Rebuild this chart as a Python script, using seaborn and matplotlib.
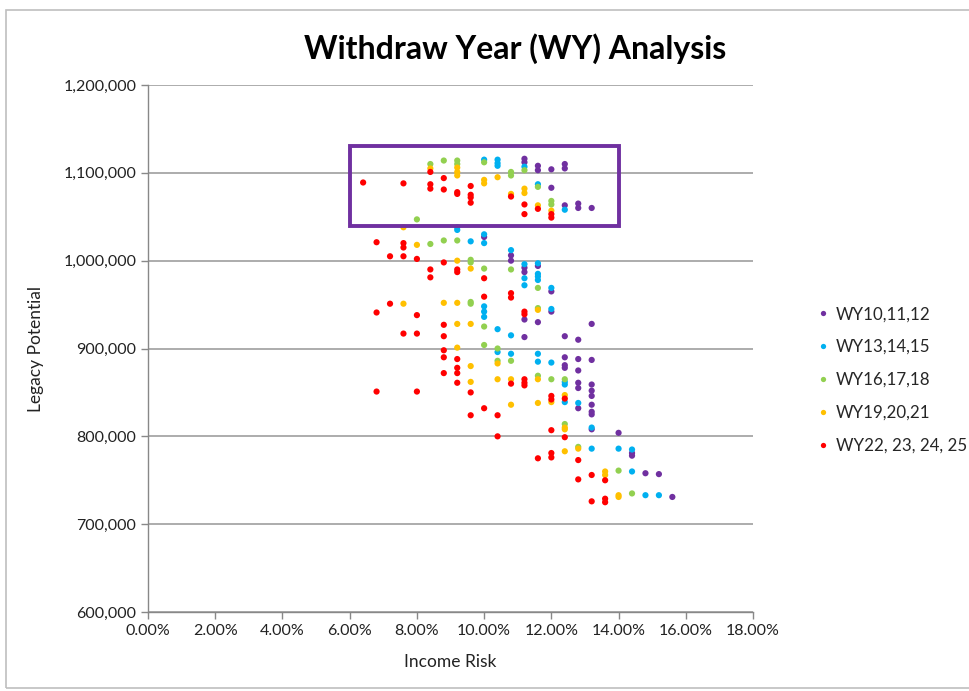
import matplotlib
matplotlib.use("Agg")
import matplotlib.pyplot as plt
from matplotlib.patches import Rectangle
from matplotlib.ticker import FuncFormatter
import pandas as pd
import seaborn as sns

# Income risk (%) / legacy potential ($) per withdraw-year group
wy10_x = [10.0, 10.8, 10.8, 11.2, 11.2, 11.2, 11.2, 11.2, 11.2, 11.6, 11.6, 11.6, 11.6,
          12.0, 12.0, 12.0, 12.0, 12.4, 12.4, 12.4, 12.4, 12.4, 12.4, 12.4,
          12.8, 12.8, 12.8, 12.8, 12.8, 12.8, 12.8, 12.8,
          13.2, 13.2, 13.2, 13.2, 13.2, 13.2, 13.2, 13.2, 13.2, 13.2,
          14.0, 14.4, 14.4, 14.8, 15.2, 15.6]
wy10_y = [1027, 1006, 1000, 1116, 1112, 992, 987, 933, 913, 1108, 1103, 994, 930,
          1104, 1083, 965, 942, 1110, 1105, 1063, 914, 890, 881, 878,
          1065, 1060, 910, 888, 875, 861, 855, 832,
          1060, 928, 887, 859, 852, 846, 836, 828, 825, 808,
          804, 781, 778, 758, 757, 731]

wy13_x = [9.2, 9.2, 9.6, 10.0, 10.0, 10.0, 10.0, 10.0, 10.0, 10.4, 10.4, 10.4, 10.4, 10.4,
          10.8, 10.8, 10.8, 11.2, 11.2, 11.2, 11.2,
          11.6, 11.6, 11.6, 11.6, 11.6, 11.6, 11.6, 12.0, 12.0, 12.0,
          12.4, 12.4, 12.4, 12.4, 12.8, 13.2, 13.2, 14.0, 14.4, 14.4, 14.8, 15.2]
wy13_y = [1038, 1035, 1022, 1115, 1030, 1020, 948, 942, 936, 1115, 1111, 1108, 922, 896,
          1012, 915, 894, 1107, 996, 980, 972,
          1087, 997, 985, 982, 978, 894, 885, 969, 945, 884,
          1058, 862, 859, 839, 838, 810, 786, 786, 785, 760, 733, 733]

wy16_x = [8.0, 8.4, 8.4, 8.8, 8.8, 9.2, 9.2, 9.2, 9.6, 9.6, 9.6, 9.6,
          10.0, 10.0, 10.0, 10.0, 10.4, 10.4, 10.8, 10.8, 10.8, 10.8, 11.2,
          11.6, 11.6, 11.6, 11.6, 12.0, 12.0, 12.0, 12.4, 12.4, 12.8, 14.0, 14.4]
wy16_y = [1047, 1110, 1019, 1114, 1023, 1114, 1110, 1023, 1001, 998, 953, 951,
          1112, 991, 925, 904, 900, 886, 1101, 1097, 990, 886, 1103,
          1084, 969, 946, 869, 1068, 1064, 865, 865, 814, 788, 761, 735]

wy19_x = [7.6, 7.6, 8.0, 8.4, 8.8, 9.2, 9.2, 9.2, 9.2, 9.2, 9.2, 9.2,
          9.6, 9.6, 9.6, 9.6, 10.0, 10.0, 10.4, 10.4, 10.4, 10.8, 10.8, 10.8,
          11.2, 11.2, 11.6, 11.6, 11.6, 11.6, 12.0, 12.0,
          12.4, 12.4, 12.4, 12.4, 12.8, 13.6, 13.6, 14.0, 14.0]
wy19_y = [1038, 951, 1018, 1105, 952, 1106, 1101, 1097, 1000, 952, 928, 901,
          991, 928, 880, 862, 1092, 1088, 1095, 883, 865, 1076, 865, 836,
          1082, 1077, 1063, 944, 865, 838, 1057, 839,
          847, 810, 808, 783, 786, 760, 756, 733, 731]

wy22_x = [6.4, 6.8, 6.8, 6.8, 7.2, 7.2, 7.6, 7.6, 7.6, 7.6, 7.6, 8.0, 8.0, 8.0, 8.0,
          8.4, 8.4, 8.4, 8.4, 8.4, 8.8, 8.8, 8.8, 8.8, 8.8, 8.8, 8.8, 8.8,
          9.2, 9.2, 9.2, 9.2, 9.2, 9.2, 9.2, 9.2, 9.6, 9.6, 9.6, 9.6, 9.6, 9.6,
          10.0, 10.0, 10.0, 10.4, 10.4, 10.8, 10.8, 10.8, 10.8,
          11.2, 11.2, 11.2, 11.2, 11.2, 11.2, 11.2, 11.6, 11.6,
          12.0, 12.0, 12.0, 12.0, 12.0, 12.0, 12.0, 12.4, 12.4,
          12.8, 12.8, 13.2, 13.2, 13.6, 13.6, 13.6]
wy22_y = [1089, 1021, 941, 851, 1005, 951, 1088, 1020, 1015, 1005, 917, 1002, 938, 917, 851,
          1101, 1087, 1082, 990, 981, 1094, 1081, 998, 927, 914, 898, 890, 872,
          1078, 1076, 990, 987, 888, 878, 872, 861, 1085, 1075, 1072, 1066, 850, 824,
          980, 959, 832, 824, 800, 1073, 963, 958, 860,
          1064, 1053, 942, 939, 865, 861, 858, 1059, 775,
          1053, 1049, 846, 842, 807, 781, 776, 843, 799,
          773, 751, 756, 726, 750, 729, 725]

groups = ["WY10,11,12", "WY13,14,15", "WY16,17,18", "WY19,20,21", "WY22, 23, 24, 25"]
colors = ["#7030A0", "#00B0F0", "#92D050", "#FFC000", "#FF0000"]

x_ticks = [0, 2, 4, 6, 8, 10, 12, 14, 16, 18]
y_ticks = [600000, 700000, 800000, 900000, 1000000, 1100000, 1200000]

# highlight box: income risk 6%-14%, legacy 1,040,000-1,130,000
box_x = [6.0, 14.0]
box_y = [1040000, 1130000]

frames = []
for name, xs, ys in zip(groups, [wy10_x, wy13_x, wy16_x, wy19_x, wy22_x],
                        [wy10_y, wy13_y, wy16_y, wy19_y, wy22_y]):
    frames.append(pd.DataFrame({"risk": xs, "legacy": [v * 1000 for v in ys], "group": name}))
df = pd.concat(frames, ignore_index=True)

sns.set_theme(style="white")
plt.rcParams["font.family"] = ["Lato", "DejaVu Sans"]

fig = plt.figure(figsize=(9.7, 6.91), dpi=100)
ax = fig.add_axes([0.1526, 0.1143, 0.6237, 0.7627])

sns.scatterplot(data=df, x="risk", y="legacy", hue="group", hue_order=groups,
                palette=colors, s=20, linewidth=0, ax=ax, zorder=3)

ax.add_patch(Rectangle((box_x[0], box_y[0]), box_x[1] - box_x[0], box_y[1] - box_y[0],
                       fill=False, edgecolor="#7030A0", linewidth=2.8, zorder=4))

ax.set_xlim(0, 18)
ax.set_ylim(600000, 1200000)
ax.set_xticks(x_ticks)
ax.set_yticks(y_ticks)
ax.xaxis.set_major_formatter(FuncFormatter(lambda v, p: f"{v:.2f}%"))
ax.yaxis.set_major_formatter(FuncFormatter(lambda v, p: f"{int(v):,}"))
ax.tick_params(axis="both", labelsize=11.5, length=5, width=1,
               direction="out", left=True, bottom=True,
               colors="#888888", labelcolor="#222222")
ax.yaxis.grid(True, color="#A6A6A6", linewidth=1.3, zorder=0)
ax.xaxis.grid(False)
ax.set_axisbelow(True)
for side in ["top", "right"]:
    ax.spines[side].set_visible(False)
for side in ["left", "bottom"]:
    ax.spines[side].set_color("#888888")
    ax.spines[side].set_linewidth(1)

ax.set_xlabel("Income Risk", fontsize=12.5, color="#222222", labelpad=12)
ax.set_ylabel("Legacy Potential", fontsize=12.5, color="#222222", labelpad=14)

fig.text(0.531, 0.93, "Withdraw Year (WY) Analysis", ha="center", va="center",
         fontsize=23, fontweight="bold", color="black")

handles, labels = ax.get_legend_handles_labels()
ax.legend(handles, labels, loc="center left", bbox_to_anchor=(0.824, 0.45),
          bbox_transform=fig.transFigure, frameon=False, fontsize=12.2,
          labelspacing=1.0, handletextpad=0.25, markerscale=0.85, handlelength=1.0)

fig.add_artist(Rectangle((0.006, 0.004), 1.2, 0.9815, transform=fig.transFigure,
                         fill=False, edgecolor="#BFBFBF", linewidth=1.2))

fig.savefig("out.png", dpi=100)
